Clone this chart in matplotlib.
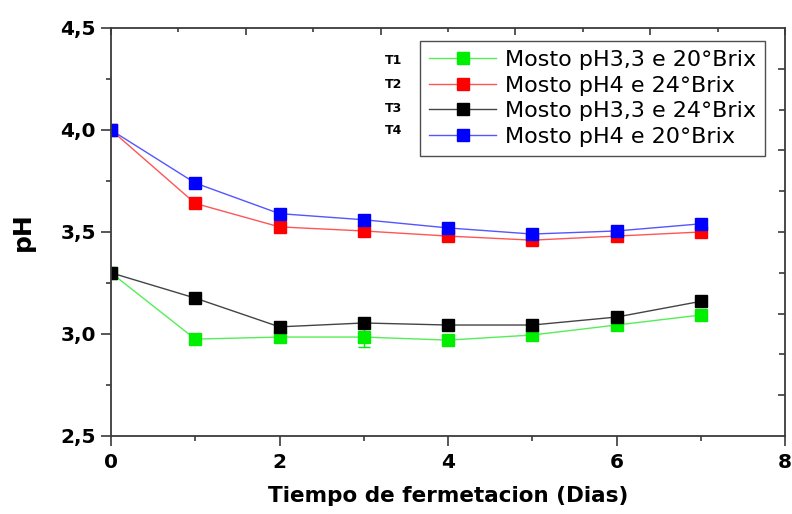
import numpy as np
import matplotlib
matplotlib.use("Agg")
import matplotlib.pyplot as plt
from matplotlib.ticker import FixedLocator, MultipleLocator

plt.rcParams['font.family'] = ['DejaVu Sans']

days = [0, 1, 2, 3, 4, 5, 6, 7]
t1 = [3.30, 2.975, 2.985, 2.985, 2.97, 2.995, 3.044, 3.093]
t2 = [4.00, 3.64, 3.525, 3.505, 3.48, 3.46, 3.48, 3.50]
t3 = [3.30, 3.176, 3.035, 3.054, 3.044, 3.044, 3.083, 3.16]
t4 = [4.00, 3.74, 3.59, 3.56, 3.52, 3.49, 3.505, 3.54]
err1 = [0.0, 0.0, 0.0, 0.05, 0.0, 0.0, 0.0, 0.0]
err2 = [0.0, 0.0, 0.0, 0.0, 0.0, 0.0, 0.0, 0.0]
err3 = [0.0, 0.025, 0.0, 0.0, 0.0, 0.0, 0.0, 0.0]
err4 = [0.0, 0.0, 0.0, 0.0, 0.0, 0.0, 0.0, 0.0]

labels = ["Mosto pH3,3 e 20°Brix", "Mosto pH4 e 24°Brix",
          "Mosto pH3,3 e 24°Brix", "Mosto pH4 e 20°Brix"]
tags = ["T1", "T2", "T3", "T4"]
line_colors = ["#55ee55", "#ff5555", "#444444", "#5555ff"]
marker_colors = ["#00ee00", "#ff0000", "#000000", "#0000ff"]

yticks = [2.5, 3.0, 3.5, 4.0, 4.5]
yticklabels = ["2,5", "3,0", "3,5", "4,0", "4,5"]
xticks = [0, 2, 4, 6, 8]
xticklabels = ["0", "2", "4", "6", "8"]

fig = plt.figure(figsize=(7.92, 5.14), dpi=100)
ax = fig.add_axes([111/792, 1-436/514, (785-111)/792, (436-28)/514])

series = [t1, t2, t3, t4]
errs = [err1, err2, err3, err4]
for s, e, lc, mc, lab in zip(series, errs, line_colors, marker_colors, labels):
    ax.errorbar(days, s, yerr=e, fmt='none', ecolor=mc, elinewidth=1, capsize=4)
    ax.plot(days, s, color=lc, lw=1.0, marker='s', markersize=9,
            markerfacecolor=mc, markeredgecolor=mc, label=lab)

ax.set_xlim(0, 8)
ax.set_ylim(2.5, 4.5)
ax.set_xticks(xticks)
ax.set_xticklabels(xticklabels)
ax.set_yticks(yticks)
ax.set_yticklabels(yticklabels)
ax.xaxis.set_minor_locator(MultipleLocator(1))
ax.yaxis.set_minor_locator(MultipleLocator(0.25))

spine_col = "#3a3a3a"
for sp in ax.spines.values():
    sp.set_color(spine_col)
    sp.set_linewidth(1.3)

ax.tick_params(axis='both', which='major', direction='out', length=7, width=1.2,
               color=spine_col, labelsize=14.5, top=False, right=False)
ax.tick_params(axis='x', which='major', pad=5)
ax.tick_params(axis='y', which='major', pad=4)
ax.tick_params(axis='both', which='minor', direction='out', length=3.5, width=1.2,
               color=spine_col, top=False, right=False)
for t in ax.get_xticklabels() + ax.get_yticklabels():
    t.set_fontweight('bold')

# top and right inward ticks
sx = ax.secondary_xaxis('top')
sx.xaxis.set_major_locator(FixedLocator([0, 1.6, 3.2, 4.8, 6.4, 8.0]))
sx.xaxis.set_minor_locator(FixedLocator([0.8, 2.4, 4.0, 5.6, 7.2]))
sx.tick_params(which='major', direction='in', length=5, width=1.2, color=spine_col, labeltop=False)
sx.tick_params(which='minor', direction='in', length=3, width=1.2, color=spine_col, labeltop=False)
sx.spines['top'].set_visible(False)

sy = ax.secondary_yaxis('right')
sy.yaxis.set_major_locator(FixedLocator([2.7, 3.1, 3.5, 3.9, 4.3]))
sy.yaxis.set_minor_locator(FixedLocator([2.9, 3.3, 3.7, 4.1]))
sy.tick_params(which='major', direction='in', length=5, width=1.2, color=spine_col, labelright=False)
sy.tick_params(which='minor', direction='in', length=4, width=1.2, color=spine_col, labelright=False)
sy.spines['right'].set_visible(False)

ax.set_xlabel("Tiempo de fermetacion (Dias)", fontsize=15.5, fontweight='bold', labelpad=10)
ax.set_ylabel("pH", fontsize=18, fontweight='bold', labelpad=18)

leg = ax.legend(loc='upper right', bbox_to_anchor=(0.970, 0.968), borderaxespad=0,
                fontsize=16, frameon=True, fancybox=False, handlelength=3.0,
                handletextpad=0.4, labelspacing=0.25, borderpad=0.4, numpoints=1)
leg.get_frame().set_edgecolor("#222222")
leg.get_frame().set_linewidth(1.0)
for h in leg.legend_handles:
    h.set_markersize(9)

tag_y = [60, 85, 108, 131]
for tg, yy in zip(tags, tag_y):
    fig.text(385/792, 1 - yy/514, tg, fontsize=9, fontweight='bold', va='center', ha='left')

fig.savefig("out.png", dpi=100)
